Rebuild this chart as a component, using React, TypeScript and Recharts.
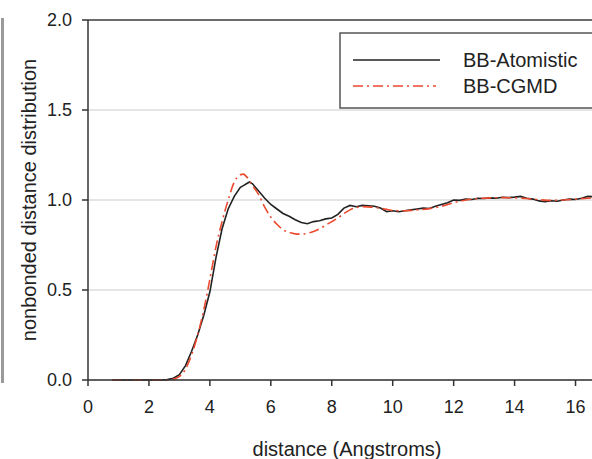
import React from "react";
import { LineChart, Line, XAxis, YAxis, CartesianGrid, ReferenceLine } from "recharts";

const atomDist = [0.8,1.2,1.6,2.0,2.4,2.6,2.8,3.0,3.2,3.4,3.6,3.8,4.0,4.2,4.4,4.6,4.8,5.0,5.1,5.2,5.3,5.4,5.5,5.6,5.8,6.0,6.2,6.4,6.6,6.8,7.0,7.2,7.4,7.6,7.8,8.0,8.2,8.4,8.6,8.8,9.0,9.2,9.4,9.6,9.8,10.0,10.2,10.4,10.6,10.8,11.0,11.2,11.4,11.6,11.8,12.0,12.2,12.4,12.6,12.8,13.0,13.2,13.4,13.6,13.8,14.0,14.2,14.4,14.6,14.8,15.0,15.2,15.4,15.6,15.8,16.0,16.2,16.4,16.6,16.8];
const atomValues = [0,0,0,0,0,0.002,0.01,0.03,0.08,0.16,0.25,0.36,0.49,0.68,0.84,0.95,1.02,1.07,1.08,1.09,1.1,1.09,1.07,1.05,1.01,0.975,0.95,0.925,0.91,0.89,0.875,0.868,0.88,0.885,0.895,0.9,0.92,0.955,0.97,0.963,0.97,0.968,0.965,0.955,0.935,0.94,0.935,0.94,0.945,0.95,0.955,0.953,0.965,0.975,0.985,1.0,0.998,1.005,1.003,1.01,1.008,1.012,1.01,1.015,1.013,1.016,1.02,1.01,1.005,0.995,0.99,0.996,0.993,1.0,1.005,1.003,1.01,1.02,1.018,1.022];

const cgDist = [0.8,1.2,1.6,2.0,2.4,2.6,2.8,3.0,3.2,3.4,3.6,3.8,4.0,4.2,4.4,4.6,4.8,5.0,5.1,5.2,5.4,5.6,5.8,6.0,6.2,6.4,6.6,6.8,7.0,7.2,7.4,7.6,7.8,8.0,8.2,8.4,8.6,8.8,9.0,9.2,9.4,9.6,9.8,10.0,10.4,10.8,11.2,11.6,12.0,12.4,12.8,13.2,13.6,14.0,14.4,14.8,15.2,15.6,16.0,16.4,16.8];
const cgValues = [0,0,0,0,0,0,0.005,0.02,0.06,0.14,0.25,0.39,0.56,0.74,0.88,1.0,1.1,1.14,1.144,1.13,1.08,1.03,0.96,0.905,0.865,0.835,0.82,0.812,0.81,0.815,0.825,0.84,0.86,0.88,0.9,0.925,0.945,0.958,0.963,0.962,0.958,0.954,0.948,0.942,0.94,0.945,0.952,0.965,0.985,1.0,1.008,1.012,1.013,1.012,1.008,1.002,0.998,1.0,1.005,1.01,1.012];

const xTicks = [0, 2, 4, 6, 8, 10, 12, 14, 16];
const yTicks = [0, 0.5, 1.0, 1.5, 2.0];
const seriesNames = ["BB-Atomistic", "BB-CGMD"];

const atomData = atomDist.map((d, i) => ({ d, v: atomValues[i] }));
const cgData = cgDist.map((d, i) => ({ d, v: cgValues[i] }));

const FONT = "'Liberation Sans', Arial, sans-serif";
const RED = "#ec4a2e";
const BLACK = "#222";
const seriesColors = [BLACK, RED];
const seriesDash = [undefined, "10 4 2 4"];

const LegendBox = () => (
  <svg width={260} height={78} style={{ position: "absolute", left: 339, top: 32, display: "block" }}>
    <rect x={1} y={1} width={300} height={75} fill="#fff" stroke="#555" strokeWidth={1.5} />
    {seriesNames.map((name, i) => (
      <g key={name}>
        <line
          x1={14}
          x2={i === 0 ? 101 : 97}
          y1={28 + i * 26}
          y2={28 + i * 26}
          stroke={seriesColors[i]}
          strokeWidth={1.6}
          strokeDasharray={seriesDash[i]}
        />
        <text x={124} y={28 + i * 26} dy="0.35em" fontSize={20} fill="#222" fontFamily={FONT}>
          {name}
        </text>
      </g>
    ))}
  </svg>
);

export default function App() {
  return (
    <div style={{ position: "absolute", left: 0, top: 0, width: 592, height: 459, overflow: "hidden", background: "#fff" }}>
      <div style={{ position: "absolute", left: 1, top: 18, width: 3, height: 365, background: "#9a9a9a" }} />
      <div style={{ position: "absolute", left: 0, top: 0 }}>
        <LineChart width={620} height={459} margin={{ top: 20, right: 14, bottom: 0, left: 0 }}>
          <CartesianGrid vertical={false} stroke="#dcdcdc" strokeWidth={1.5} />
          <XAxis
            type="number"
            dataKey="d"
            domain={[0, 17]}
            ticks={xTicks}
            allowDataOverflow
            height={79}
            tickSize={6}
            tickMargin={14}
            stroke="#333"
            strokeWidth={1.5}
            tick={{ fontSize: 18, fill: "#222", fontFamily: FONT }}
            label={{ value: "distance (Angstroms)", position: "insideBottom", offset: 3, fontSize: 20, fill: "#222", fontFamily: FONT }}
          />
          <YAxis
            type="number"
            domain={[0, 2]}
            ticks={yTicks}
            width={88}
            tickSize={6}
            tickMargin={10}
            stroke="#333"
            strokeWidth={1.5}
            tickFormatter={(v: number) => v.toFixed(1)}
            tick={{ fontSize: 18, fill: "#222", fontFamily: FONT }}
            label={{ value: "nonbonded distance distribution", angle: -90, position: "insideLeft", offset: 29, style: { textAnchor: "middle" }, fontSize: 20, fill: "#222", fontFamily: FONT }}
          />
          <ReferenceLine y={2} stroke="#444" strokeWidth={1.5} />
          <Line
            data={atomData}
            dataKey="v"
            name={seriesNames[0]}
            type="linear"
            stroke={BLACK}
            strokeWidth={1.6}
            dot={false}
            isAnimationActive={false}
          />
          <Line
            data={cgData}
            dataKey="v"
            name={seriesNames[1]}
            type="monotone"
            stroke={RED}
            strokeWidth={1.6}
            strokeDasharray="10 4 2 4"
            dot={false}
            isAnimationActive={false}
          />
        </LineChart>
      </div>
      <LegendBox />
    </div>
  );
}
